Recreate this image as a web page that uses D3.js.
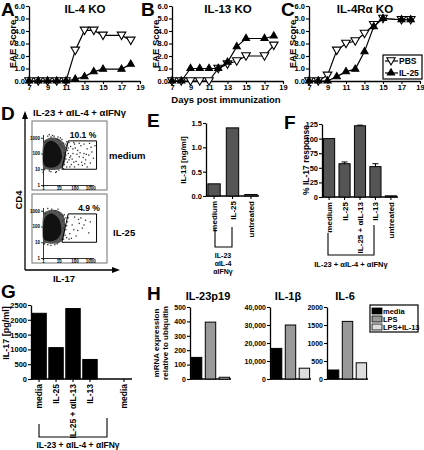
<!DOCTYPE html>
<html><head><meta charset="utf-8">
<script src="https://cdn.jsdelivr.net/npm/d3@7"></script>
<style>
body{margin:0;background:#fff}
svg{font-family:"Liberation Sans",Arial,sans-serif;font-weight:bold}
</style></head><body>
<svg id="c" width="424" height="450"></svg>
<script>
// ---------- DATA ----------
const days = [7,8,9,10,11,12,13,14,15,17,18];
const dayTicks = [7,9,11,13,15,17,19];
const eaeTicks = [0,1,2,3,4,5,6];
const aPBS  = [0,0,0,0,0,2.45,4.05,4.05,3.65,3.65,3.25];
const aIL25 = [0,0,0,0,0,0.15,0.35,0.75,0.95,0.95,1.35];
const bPBS  = [0,0,0,0,0,1.0,1.35,1.6,2.0,2.0,2.85];
const bIL25 = [0,0,1.0,1.0,1.0,1.0,1.5,2.75,3.4,3.4,3.6];
const cPBS  = [0,0,0.45,2.45,3.0,3.2,3.8,4.5,5.0,4.9,4.9];
const cIL25 = [0,0,0,0.35,0.75,0.95,2.35,4.35,5.0,4.9,4.9];
const eaeTitles = ["IL-4 KO","IL-13 KO","IL-4Rα KO"];
const legendNames = ["PBS","IL-25"];

// flow cytometry (log10 units: [IL-17, CD4])
const flowTicks = [1,10,100,1000];
const flowGate = [[1.6,2.8],[3.4,2.8],[3.4,1.0],[1.2,1.0]];
const flowPct = ["10.1 %","4.9 %"];
const flowCond = ["medium","IL-25"];
const haloMedium = [[0.0,1.15],[0.0,2.55],[0.3,2.95],[0.8,3.0],[1.25,2.75],[1.45,2.3],[1.4,1.5],[1.15,1.05],[0.6,0.95],[0.2,1.0]];
const coreMedium = [[0.02,1.4],[0.05,2.3],[0.25,2.7],[0.6,2.8],[0.95,2.55],[1.15,2.15],[1.2,1.7],[1.0,1.3],[0.7,1.12],[0.3,1.12]];
const dotsMedium = [[0.1,1.0],[0.2,2.8],[0.3,3.1],[0.9,2.9],[1.1,2.6],[1.3,2.65],[1.0,0.95],[0.5,0.85],[1.35,1.3],[1.45,1.9],[1.55,2.2],[1.65,1.6],[1.75,2.45],[1.8,1.3],[1.9,2.0],[2.0,2.6],[2.1,1.5],[2.2,2.2],[2.3,1.8],[2.4,2.5],[2.5,1.25],[2.6,2.0],[2.7,1.6],[2.8,2.3],[2.9,1.9],[3.0,1.4],[3.1,2.1],[3.2,1.7],[1.65,2.7],[1.95,2.7],[2.3,2.65],[2.6,2.6],[0.7,3.1],[0.4,3.2],[1.1,3.0],[1.5,1.15],[2.0,1.15],[2.8,1.15],[3.3,2.5],[1.75,1.85],[2.15,1.95],[2.45,1.45],[1.4,2.4],[1.55,1.45],[1.85,1.65],[2.05,2.35],[1.3,1.75],[1.6,2.0],[1.9,2.3],[2.25,1.3],[2.55,1.75],[1.45,2.6],[0.0,0.8],[0.8,0.8],
  [1.5,2.5],[1.35,2.05],[1.45,1.65],[1.25,1.45],[1.3,1.05],[0.85,0.85],[0.4,0.9],[0.05,0.95],[0.15,2.75],[0.5,3.05],[1.0,2.85],[1.2,2.9],[1.5,2.75],[1.6,2.35],[1.7,1.75],[1.35,2.3],[1.2,2.45],[0.95,3.05],[0.6,3.15],[2.35,2.05],[2.75,1.95],[3.05,2.4],[2.95,2.65],[1.7,1.15],[2.65,1.35],[1.95,1.45]];
const haloIL25 = [[0.0,1.1],[0.0,2.65],[0.3,3.0],[0.8,3.05],[1.25,2.8],[1.4,2.3],[1.35,1.5],[1.1,1.0],[0.6,0.9],[0.2,0.95]];
const coreIL25 = [[0.02,1.3],[0.05,2.35],[0.3,2.75],[0.65,2.8],[1.0,2.5],[1.15,2.05],[1.15,1.6],[0.95,1.25],[0.65,1.08],[0.3,1.08]];
const dotsIL25 = [[0.1,0.9],[0.3,3.15],[0.8,3.0],[1.1,2.75],[1.25,2.7],[0.9,0.9],[1.3,1.2],[1.45,1.8],[1.55,2.3],[1.7,1.55],[1.85,2.1],[2.0,2.6],[2.1,1.4],[2.3,2.2],[2.5,1.9],[2.7,2.4],[2.9,1.6],[1.6,2.55],[2.2,1.75],[1.4,2.1],[1.5,1.3],[1.95,1.8],[0.5,0.8],[1.35,2.45],[2.4,2.55],[1.8,1.25],
  [1.45,2.55],[1.3,1.9],[1.4,1.45],[1.2,1.2],[0.75,0.85],[0.3,0.85],[0.05,0.9],[0.15,2.85],[0.55,3.1],[1.0,2.9],[1.35,2.75],[1.5,2.05],[1.25,2.35],[0.95,3.1],[2.6,2.1],[3.0,2.3],[1.65,1.2],[2.25,2.45]];

// E
const eCats = ["medium","IL-25","untreated"];
const eVals = [0.25,1.4,0.03];
const eTicks = [0,0.5,1.0,1.5];
// F
const fCats = ["medium","IL-25","IL-25 + αIL-13","IL-13","untreated"];
const fVals = [100,57,122,52,2];
const fErr  = [0,3,1,5,0];
const fTicks = [0,25,50,75,100,125];
// G
const gCats = ["media","IL-25","IL-25 + αIL-13","IL-13","","media"];
const gVals = [2220,1060,2380,660,null,0];
const gTicks = [0,500,1000,1500,2000,2500];
// H
const hGroups = ["media","LPS","LPS+IL-13"];
const hTitles = ["IL-23p19","IL-1β","IL-6"];
const hP19 = [150,395,12];
const hIL1b = [17000,30000,6000];
const hIL6 = [250,1600,450];
const hMax = [500,40000,2000];
const hTickStep = [100,10000,500];

// ---------- DRAW ----------
const svg = d3.select("#c");
const F = "Liberation Sans, Arial, sans-serif";
function styleAxis(g, fs){
  g.selectAll("path.domain").attr("stroke","#000").attr("stroke-width",1.3);
  g.selectAll(".tick line").attr("stroke","#000").attr("stroke-width",1.1);
  g.selectAll(".tick text").attr("font-size",fs).attr("font-weight","bold").attr("font-family",F).attr("fill","#000");
}
function txt(x,y,s,fs,anchor,rot){
  const t = svg.append("text").attr("x",x).attr("y",y).text(s)
    .attr("font-size",fs).attr("font-weight","bold").attr("fill","#000")
    .attr("text-anchor",anchor||"start");
  if(rot) t.attr("transform",`rotate(${rot},${x},${y})`);
  return t;
}
// panel letters
[["A",1,16],["B",141,16],["C",281,16],["D",1,120],["E",147,127],["F",284,129],["G",1,298],["H",147,300]]
 .forEach(d=>txt(d[1],d[2],d[0],19,"start"));

// --- A, B, C ---
const eaeSeries = [[aPBS,aIL25],[bPBS,bIL25],[cPBS,cIL25]];
const eaeX0 = [29,172,309];
eaeSeries.forEach((ser,i)=>{
  const x = d3.scaleLinear().domain([7,19]).range([eaeX0[i], eaeX0[i]+111]);
  const y = d3.scaleLinear().domain([0,6]).range([81,6]);
  const gy = svg.append("g").attr("transform",`translate(${eaeX0[i]},0)`)
    .call(d3.axisLeft(y).tickValues(eaeTicks).tickSize(3).tickPadding(1).tickSizeOuter(0));
  styleAxis(gy,7.5);
  const gx = svg.append("g").attr("transform",`translate(0,81)`)
    .call(d3.axisBottom(x).tickValues(dayTicks).tickSize(3).tickPadding(1).tickSizeOuter(0));
  styleAxis(gx,7.5);
  txt(eaeX0[i]+56,13,eaeTitles[i],11.5,"middle");
  txt(eaeX0[i]-13,44,"EAE Score",9.5,"middle",-90);
  const line = d3.line().x((d,k)=>x(days[k])).y(d=>y(d));
  ser.forEach((vals,s)=>{
    svg.append("path").attr("d",line(vals)).attr("fill","none").attr("stroke","#000").attr("stroke-width",1.2);
    svg.selectAll(null).data(vals).enter().append("path")
      .attr("d",d3.symbol(d3.symbolTriangle, s===0?32:22)())
      .attr("transform",(d,k)=>`translate(${x(days[k])},${y(d)+(s===0?-0.8:0)}) rotate(${s===0?180:0})`)
      .attr("fill",s===0?"#fff":"#000").attr("stroke","#000").attr("stroke-width",1.1);
  });
});
txt(226,103,"Days post immunization",9.5,"middle");
// legend C
svg.append("rect").attr("x",383).attr("y",55).attr("width",39).attr("height",24)
  .attr("fill","#fff").attr("stroke","#000").attr("stroke-width",1.2);
legendNames.forEach((n,s)=>{
  const yy = 61 + s*12;
  svg.append("line").attr("x1",385).attr("x2",398).attr("y1",yy).attr("y2",yy).attr("stroke","#000").attr("stroke-width",1.2);
  svg.append("path").attr("d",d3.symbol(d3.symbolTriangle, s===0?30:22)())
    .attr("transform",`translate(391,${yy+(s===0?-0.8:0)}) rotate(${s===0?180:0})`)
    .attr("fill",s===0?"#fff":"#000").attr("stroke","#000").attr("stroke-width",1.1);
  txt(399,yy+3,n,8.5,"start");
});

// --- D flow ---
txt(33,116,"IL-23 + αIL-4 + αIFNγ",9.5,"start");
const flows = [[haloMedium,coreMedium,dotsMedium],[haloIL25,coreIL25,dotsIL25]];
const frameY = [121,194];
flows.forEach((fd,i)=>{
  const fy0 = frameY[i];
  svg.append("rect").attr("x",32).attr("y",fy0).attr("width",75).attr("height",69)
    .attr("fill","none").attr("stroke","#888").attr("stroke-width",1.2);
  const xs = d3.scaleLog().domain([1,10000]).range([43,106]);
  const ys = d3.scaleLog().domain([1,10000]).range([fy0+64, fy0+1]);
  const px = v=>xs(Math.pow(10,v)), py = v=>ys(Math.pow(10,v));
  const ax = ys.copy().domain([1,1600]).range([ys(1),ys(1600)]);
  const gy = svg.append("g").attr("transform",`translate(43,0)`)
    .call(d3.axisLeft(ax).tickValues(flowTicks).tickFormat(d3.format("d")).tickSize(2).tickPadding(1).tickSizeOuter(0));
  styleAxis(gy,4.5); gy.selectAll("path.domain,.tick line").attr("stroke-width",0.8);
  const axx = xs.copy().domain([1,1600]).range([xs(1),xs(1600)]);
  const gx = svg.append("g").attr("transform",`translate(0,${ys(1)})`)
    .call(d3.axisBottom(axx).tickValues(flowTicks).tickFormat(d3.format("d")).tickSize(2).tickPadding(0).tickSizeOuter(0));
  styleAxis(gx,4.5); gx.selectAll("path.domain,.tick line").attr("stroke-width",0.8);
  const cl = d3.line().x(d=>px(d[0])).y(d=>py(d[1])).curve(d3.curveCardinalClosed);
  svg.append("path").attr("d",cl(fd[0])).attr("fill","#555");
  svg.append("path").attr("d",cl(fd[1])).attr("fill","#111");
  svg.selectAll(null).data(fd[2]).enter().append("rect")
    .attr("x",d=>px(d[0])-0.6).attr("y",d=>py(d[1])-0.6).attr("width",1.3).attr("height",1.3).attr("fill","#333");
  const gl = d3.line().x(d=>px(d[0])).y(d=>py(d[1])).curve(d3.curveLinearClosed);
  svg.append("path").attr("d",gl(flowGate)).attr("fill","none").attr("stroke","#000").attr("stroke-width",1);
  txt(i===0?83:89, i===0?138:211, flowPct[i], 8.5, "middle");
  txt(i===0?109:113, i===0?159:236, flowCond[i], 9.5, "start");
});
svg.append("line").attr("x1",25).attr("x2",25).attr("y1",270).attr("y2",113).attr("stroke","#000").attr("stroke-width",1.3);
svg.append("path").attr("d","M25,111 L22,119 L28,119 Z").attr("fill","#000");
svg.append("line").attr("x1",25).attr("x2",113).attr("y1",270).attr("y2",270).attr("stroke","#000").attr("stroke-width",1.3);
svg.append("path").attr("d","M120,270 L112,267 L112,273 Z").attr("fill","#000");
txt(64,282,"IL-17",9.5,"middle");
txt(22,200,"CD4",9.5,"middle",-90);

// bar helper
function bars(opts){
  const x = d3.scaleBand().domain(d3.range(opts.cats.length)).range(opts.xr).paddingInner(opts.pi).paddingOuter(opts.po);
  const y = d3.scaleLinear().domain(opts.yd).range(opts.yr);
  const gy = svg.append("g").attr("transform",`translate(${opts.xr[0]},0)`)
    .call(d3.axisLeft(y).tickValues(opts.ticks).tickFormat(opts.fmt).tickSize(3).tickPadding(1).tickSizeOuter(0));
  styleAxis(gy,opts.fs||7.5);
  svg.append("line").attr("x1",opts.xr[0]).attr("x2",opts.xr[1]).attr("y1",opts.yr[0]).attr("y2",opts.yr[0])
    .attr("stroke","#000").attr("stroke-width",1.3);
  opts.vals.forEach((v,k)=>{
    if(v===null) return;
    svg.append("rect").attr("x",x(k)).attr("width",x.bandwidth()).attr("y",y(v)).attr("height",y(0)-y(v))
      .attr("fill",Array.isArray(opts.fill)?opts.fill[k]:opts.fill).attr("stroke","#000").attr("stroke-width",opts.sw||1);
    if(opts.err && opts.err[k]>0){
      const cx = x(k)+x.bandwidth()/2;
      svg.append("line").attr("x1",cx).attr("x2",cx).attr("y1",y(v+opts.err[k])).attr("y2",y(v)).attr("stroke","#000");
      svg.append("line").attr("x1",cx-3).attr("x2",cx+3).attr("y1",y(v+opts.err[k])).attr("y2",y(v+opts.err[k])).attr("stroke","#000");
    }
  });
  if(opts.labels){
    opts.cats.forEach((c,k)=>{
      if(c==="") return;
      const cx = x(k)+x.bandwidth()/2;
      svg.append("line").attr("x1",cx).attr("x2",cx).attr("y1",opts.yr[0]).attr("y2",opts.yr[0]+3).attr("stroke","#000").attr("stroke-width",1.1);
      txt(cx+3, opts.yr[0]+5, c, opts.lfs||8, "end", -90);
    });
  }
  return {x,y};
}
// --- E ---
bars({cats:eCats, vals:eVals, xr:[206,259], pi:0.33, po:0.1, yd:[0,1.5], yr:[196,123],
  ticks:eTicks, fmt:d3.format(".1f"), fill:"#555", labels:true});
txt(186,160,"IL-13 [ng/ml]",8,"middle",-90);
svg.append("path").attr("d","M215,229 V247 H232 V227").attr("fill","none").attr("stroke","#000").attr("stroke-width",1.1);
txt(223,258,"IL-23",7,"middle"); txt(223,266,"αIL-4",7,"middle"); txt(223,274,"αIFNγ",7,"middle");
// --- F ---
bars({cats:fCats, vals:fVals, err:fErr, xr:[322,398], pi:0.28, po:0.1, yd:[0,125], yr:[197,124],
  ticks:fTicks, fmt:d3.format("d"), fill:"#555", labels:true});
txt(309,160,"% IL-17 response",8.5,"middle",-90);
svg.append("path").attr("d","M328,233 V255 H374 V225").attr("fill","none").attr("stroke","#000").attr("stroke-width",1.1);
txt(351,267,"IL-23 + αIL-4 + αIFNγ",7.5,"middle");
// --- G ---
bars({cats:gCats, vals:gVals, xr:[31,132], pi:0.15, po:0.05, yd:[0,2500], yr:[379,305],
  ticks:gTicks, fmt:d3.format("d"), fill:"#000", labels:true, lfs:8.5});
txt(9,333,"IL-17 [pg/ml]",9,"middle",-90);
svg.append("path").attr("d","M39,424 V437 H107 V418").attr("fill","none").attr("stroke","#000").attr("stroke-width",1.1);
txt(78,448,"IL-23 + αIL-4 + αIFNγ",8.5,"middle");
// --- H ---
const hVals = [hP19,hIL1b,hIL6];
const hX = [[190,231],[270,311],[327,368]];
const hFill = ["#000","#999","#ddd"];
hVals.forEach((v,i)=>{
  bars({cats:hGroups, vals:v, xr:hX[i], pi:0.25, po:0.1, yd:[0,hMax[i]], yr:[379,307],
    ticks:d3.range(0,hMax[i]+1,hTickStep[i]), fmt:i===1?d3.format(","):d3.format("d"), fill:hFill, labels:false, fs:7});
  txt(hX[i][0]+18,300,hTitles[i],11,"middle");
});
txt(159,343,"mRNA expression",8,"middle",-90);
txt(168,343,"relative to ubiquitin",8,"middle",-90);
svg.append("rect").attr("x",370).attr("y",305).attr("width",48).attr("height",27)
  .attr("fill","#fff").attr("stroke","#000").attr("stroke-width",1.2);
hGroups.forEach((g,k)=>{
  const yy = 308 + k*8;
  svg.append("rect").attr("x",372).attr("y",yy).attr("width",10).attr("height",6).attr("fill",hFill[k]).attr("stroke","#000").attr("stroke-width",0.8);
  txt(383,yy+6,g,7.5,"start");
});
</script>
</body></html>
